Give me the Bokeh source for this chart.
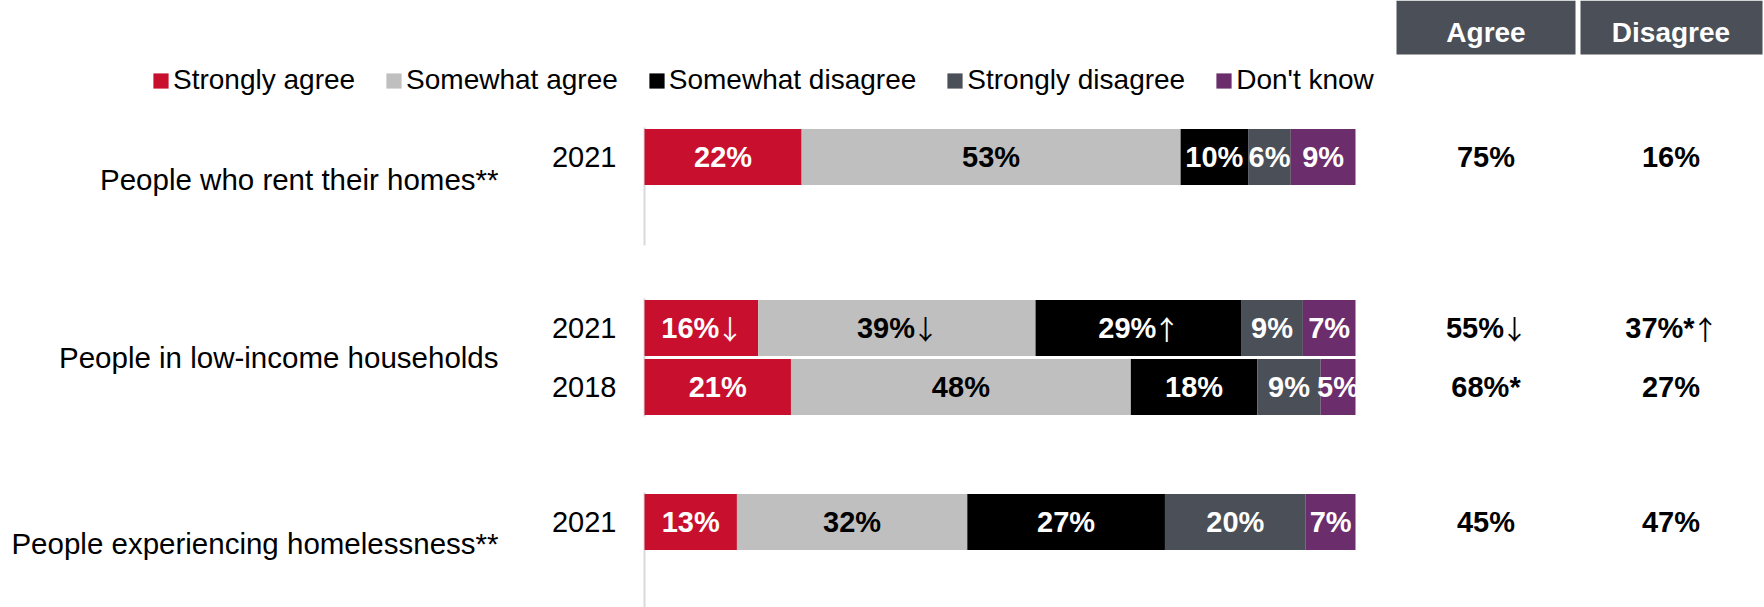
from bokeh.plotting import figure
from bokeh.models import Range1d, Legend, LegendItem, ColumnDataSource
from bokeh.core.properties import value
from bokeh.embed import file_html
from bokeh.resources import INLINE

# ---------------- data ----------------
categories = ["People who rent their homes**",
              "People in low-income households",
              "People experiencing homelessness**"]
series = ["Strongly agree", "Somewhat agree", "Somewhat disagree",
          "Strongly disagree", "Don't know"]
colors = ["#C8102E", "#BFBFBF", "#000000", "#4B4F57", "#6B2D6B"]
label_colors = ["#FFFFFF", "#000000", "#FFFFFF", "#FFFFFF", "#FFFFFF"]

row_category = [0, 1, 1, 2]
row_slot = [0, 0, 1, 0]
row_year = ["2021", "2021", "2018", "2021"]

strongly_agree = [22.1, 16.0, 20.6, 13.0]
somewhat_agree = [53.3, 39.0, 47.8, 32.4]
somewhat_disagree = [9.5, 28.9, 17.8, 27.8]
strongly_disagree = [6.0, 8.7, 8.9, 19.8]
dont_know = [9.1, 7.4, 4.9, 7.0]

labels_strongly_agree = ["22%", "16%\u2193", "21%", "13%"]
labels_somewhat_agree = ["53%", "39%\u2193", "48%", "32%"]
labels_somewhat_disagree = ["10%", "29%\u2191", "18%", "27%"]
labels_strongly_disagree = ["6%", "9%", "9%", "20%"]
labels_dont_know = ["9%", "7%", "5%", "7%"]

net_agree = ["75%", "55%\u2193", "68%*", "45%"]
net_disagree = ["16%", "37%*\u2191", "27%", "47%"]
net_headers = ["Agree", "Disagree"]

# ---------------- layout ----------------
W, H = 1764, 607
X0 = 644            # page px of 0 %
PPP = 7.11          # px per percent
FONT = "Liberation Sans"
ARROW_FONT = "Noto Sans CJK JP"
FS = 29
ARROWS = "\u2191\u2193"
BOLD_W = {"%": 0.889, "*": 0.389}   # Arial bold advance widths (em)
ARROW_W = 22                          # visible arrow width incl. gap (px)


def px(xpage):
    return (xpage - X0) / PPP


def split(lbl):
    if lbl and lbl[-1] in ARROWS:
        base, arr = lbl[:-1], lbl[-1]
        wn = sum(BOLD_W.get(ch, 0.556) for ch in base) * FS
        return base, arr, (wn - ARROW_W) / 2.0
    return lbl, "", 0.0


group_top = [127, 298, 492]
group_bottom = [245, 416, 607]
group_label_y = [179, 357, 543]
SLOT = 59
BAR_H = 56

p = figure(width=W, height=H, output_backend="svg", toolbar_location=None,
           x_range=Range1d(px(0), px(W)),
           y_range=Range1d(H, 0),
           x_axis_location=None, y_axis_location=None, min_border=0)
p.grid.visible = False
p.outline_line_color = None
p.background_fill_color = "white"

values = [strongly_agree, somewhat_agree, somewhat_disagree,
          strongly_disagree, dont_know]
labels = [labels_strongly_agree, labels_somewhat_agree, labels_somewhat_disagree,
          labels_strongly_disagree, labels_dont_know]

ys = [group_top[c] + SLOT * (s + 0.5) for c, s in zip(row_category, row_slot)]

# axis segments
p.segment(x0=[0] * 3, x1=[0] * 3, y0=group_top, y1=group_bottom,
          line_color="#D9D9D9", line_width=2)


def labelled_text(xs, yv, labs, color):
    parts = [split(l) for l in labs]
    base = [b for b, a, o in parts]
    arr = [a for b, a, o in parts]
    off = [o for b, a, o in parts]
    has = [a != "" for a in arr]
    src = ColumnDataSource(dict(
        x=xs, y=yv, base=base, arr=arr,
        align=["right" if h else "center" for h in has],
        boff=[o if h else 0.0 for o, h in zip(off, has)],
        aoff=[o - 3 if h else 0.0 for o, h in zip(off, has)]))
    p.text(x="x", y="y", text="base", source=src, text_align="align",
           x_offset="boff", text_baseline="middle", text_font=value(FONT),
           text_font_size=f"{FS}px", text_font_style="bold", text_color=color)
    p.text(x="x", y="y", text="arr", source=src, text_align="left",
           x_offset="aoff", y_offset=0, text_baseline="middle",
           text_font=value(ARROW_FONT), text_font_size="27px",
           text_color=color)


legend_items = []
cum = [0.0] * len(ys)
for i, name in enumerate(series):
    left = cum[:]
    right = [l + v for l, v in zip(left, values[i])]
    mid = [(l + r) / 2 for l, r in zip(left, right)]
    src = ColumnDataSource(dict(y=ys, left=left, right=right))
    r = p.hbar(y="y", left="left", right="right", height=BAR_H, source=src,
               fill_color=colors[i], line_color=None)
    labelled_text(mid, ys, labels[i], label_colors[i])
    legend_items.append(LegendItem(label=name, renderers=[r]))
    cum = right

# year labels
p.text(x=[px(616)] * len(ys), y=ys, text=row_year, text_align="right",
       text_baseline="middle", text_font=value(FONT), text_font_size=f"{FS}px",
       text_color="#000000")

# category labels
p.text(x=[px(498)] * 3, y=group_label_y, text=categories, text_align="right",
       text_baseline="middle", text_font=value(FONT), text_font_size="29.5px",
       text_color="#000000")

# net columns
col_x = [px(1485.5), px(1670.5)]
p.quad(left=[px(1396), px(1580)], right=[px(1575), px(1762)],
       top=[0, 0], bottom=[54, 54], fill_color="#4B4F57", line_color=None)
p.text(x=col_x, y=[32, 32], text=net_headers, text_align="center",
       text_baseline="middle", text_font=value(FONT), text_font_size="28px",
       text_font_style="bold", text_color="#FFFFFF")
labelled_text([col_x[0]] * len(ys), ys, net_agree, "#000000")
labelled_text([col_x[1]] * len(ys), ys, net_disagree, "#000000")

legend = Legend(items=legend_items, orientation="horizontal",
                location=(151, 511), glyph_width=19, glyph_height=19,
                label_standoff=3, spacing=29, padding=0, margin=0,
                border_line_color=None, background_fill_alpha=0,
                label_text_font=FONT, label_text_font_size="28px",
                label_text_color="#000000", label_height=30)
p.add_layout(legend, "center")

open("out.html", "w").write(file_html(p, INLINE))
